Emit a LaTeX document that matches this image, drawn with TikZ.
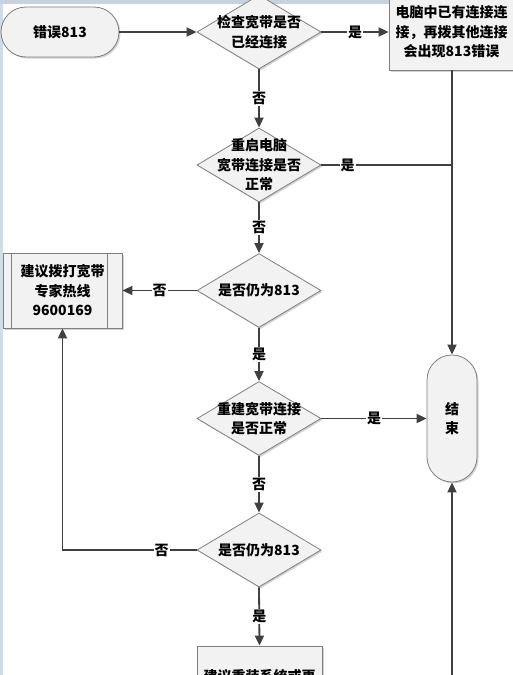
\documentclass[tikz,border=0pt]{standalone}
\usepackage{fontspec}
\setmainfont{Noto Sans CJK SC}
\usetikzlibrary{shapes.geometric,arrows.meta,shadows}
\definecolor{linec}{HTML}{404040}
\definecolor{bordc}{HTML}{7F7F7F}
\definecolor{fillc}{HTML}{F2F2F2}
\definecolor{topbar}{HTML}{C8D2DE}
\definecolor{leftbar}{HTML}{CCDDEE}
\begin{document}
\begin{tikzpicture}[x=1pt,y=-1pt,
  txt/.style={font=\fontsize{14}{19.5}\selectfont\bfseries, align=center, text=black},
  shp/.style={draw=bordc, line width=0.8pt, fill=fillc, txt,
    drop shadow={shadow xshift=1.5pt, shadow yshift=-1.5pt, opacity=0.35}},
  dia/.style={shp, diamond, minimum width=124pt, minimum height=74pt, inner sep=0pt},
  boxnode/.style={shp, rectangle, inner sep=0pt},
  conn/.style={draw=linec, line width=1.8pt},
  arr/.style={conn, -{Triangle[length=10pt,width=9pt]}},
  lab/.style={fill=white, inner sep=1pt, font=\fontsize{14}{14}\selectfont\bfseries, text=black}]
\useasboundingbox (0,0) rectangle (512,675);
\fill[white] (0,0) rectangle (512,675);
\fill[leftbar] (0,0) rectangle (3,675);
\fill[topbar] (0,0) rectangle (512,4);

% nodes
\node[boxnode, rounded corners=25pt, minimum width=118pt, minimum height=50pt] (start) at (60,32) {错误813};
\node[dia, label={[txt]center:{检查宽带是否\\已经连接}}] (d1) at (259,32) {};
\node[boxnode, minimum width=125pt, minimum height=76pt] (rbox) at (451.5,32) {电脑中已有连接连\\接，再拨其他连接\\会出现813错误};
\node[dia, label={[txt]center:{重启电脑\\宽带连接是否\\正常}}] (d2) at (259,165) {};
\node[dia, label={[txt]center:{是否仍为813}}] (d3) at (259,290.5) {};
\node[boxnode, minimum width=119pt, minimum height=75pt] (lbox) at (62.5,290.5) {建议拨打宽带\\专家热线\\9600169};
\draw[draw=bordc, line width=0.8pt] ([xshift=9pt]lbox.north west) -- ([xshift=9pt]lbox.south west)
  ([xshift=-15pt]lbox.north east) -- ([xshift=-15pt]lbox.south east);
\node[dia, label={[txt]center:{重建宽带连接\\是否正常}}] (d4) at (259,418.5) {};
\node[boxnode, rounded corners=25pt, minimum width=50pt, minimum height=127pt] (end) at (452,418.5) {结\\束};
\node[dia, label={[txt]center:{是否仍为813}}] (d5) at (259,550) {};
\node[boxnode, minimum width=125pt, minimum height=60pt] (bbox) at (259.5,676) {建议重装系统或更};
\coordinate (bot) at (452,700);

% connectors
\draw[arr] (start.east) -- (d1.west);
\draw[arr] (d1.east) -- node[lab]{是} (rbox.west |- d1.east);
\draw[arr] (d1.south) -- node[lab]{否} (d2.north);
\draw[arr] (rbox.south -| end.north) -- (end.north);
\draw[conn] (d2.east) -- node[lab, pos=0.2]{是} (d2.east -| end.north);
\draw[arr] (d2.south) -- node[lab]{否} (d3.north);
\draw[arr] (d3.west) -- node[lab]{否} (lbox.east);
\draw[arr] (d3.south) -- node[lab]{是} (d4.north);
\draw[arr] (d4.east) -- node[lab]{是} (end.west);
\draw[arr] (d4.south) -- node[lab]{否} (d5.north);
\draw[arr] (d5.west) -- node[lab, pos=0.26]{否} (d5.west -| lbox.south) -- (lbox.south);
\draw[arr] (d5.south) -- node[lab]{是} (bbox.north);
\draw[arr] (bot) -- (end.south);
\end{tikzpicture}
\end{document}
